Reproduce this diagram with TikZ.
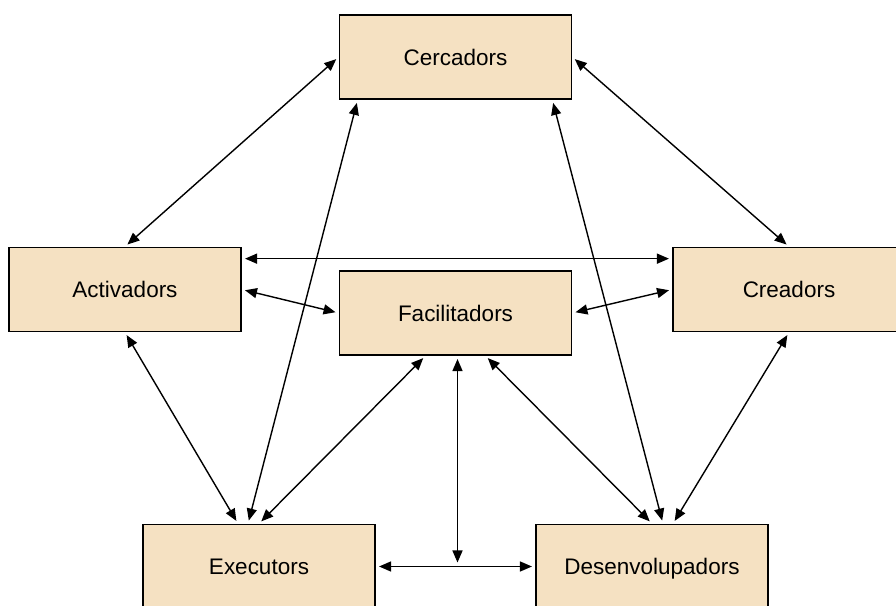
\documentclass[tikz,border=0pt]{standalone}
\usepackage{fontspec}
\setmainfont{Liberation Sans}
\usetikzlibrary{arrows.meta}
\definecolor{rolefill}{RGB}{245,225,194}

\begin{document}
\begin{tikzpicture}[
	role/.style={draw, line width=1.2pt, fill=rolefill, minimum width=5.8cm,
		minimum height=2.1cm, inner sep=0pt, text height=11.5pt, text depth=0pt,
		font=\fontsize{16}{19}\selectfont},
	link/.style={line width=1pt,
		{Triangle[length=0.3cm,width=0.25cm]}-{Triangle[length=0.3cm,width=0.25cm]},
		shorten <=0.08cm, shorten >=0.08cm}]
% \draw[help lines] (0,0) grid (22,15);
\useasboundingbox (0,0) rectangle (22.4,15.125);
% Roles
\node [role] (cerc) at (11.3875,13.7) {Cercadors};
\node [role] (act) at (3.125,7.8875) {Activadors};
\node [role] (cre) at (19.725,7.8875) {Creadors};
\node [role] (fac) at (11.3875,7.3) {Facilitadors};
\node [role] (exe) at (6.475,0.9625) {Executors};
\node [role] (des) at (16.3,0.9625) {Desenvolupadors};
% Links of Cercadors
\draw [link] (cerc.west) -- (act.north);
\draw [link] (cerc.east) -- (cre.north);
\draw [link] ([xshift=0.475cm]cerc.south west) -- ([xshift=-0.275cm]exe.north);
\draw [link] ([xshift=-0.5cm]cerc.south east) -- ([xshift=0.275cm]des.north);
% Links across the middle
\draw [link] ([yshift=-0.3cm]act.north east) -- ([yshift=-0.3cm]cre.north west);
\draw [link] (act.east) -- (fac.west);
\draw [link] (fac.east) -- (cre.west);
% Links down to Executors and Desenvolupadors
\draw [link] (act.south) -- ([xshift=-0.525cm]exe.north);
\draw [link] (cre.south) -- ([xshift=0.525cm]des.north);
\draw [link] ([xshift=-0.75cm]fac.south) -- (exe.north);
\draw [link] ([xshift=0.75cm]fac.south) -- (des.north);
% Bottom line and the link that meets it
\draw [link] (exe.east) -- (des.west);
\coordinate (meet) at ([xshift=0.05cm]fac.south |- exe.east);
\draw [link, shorten >=0.1cm] ([xshift=0.05cm]fac.south) -- (meet);
\end{tikzpicture}
\end{document}
